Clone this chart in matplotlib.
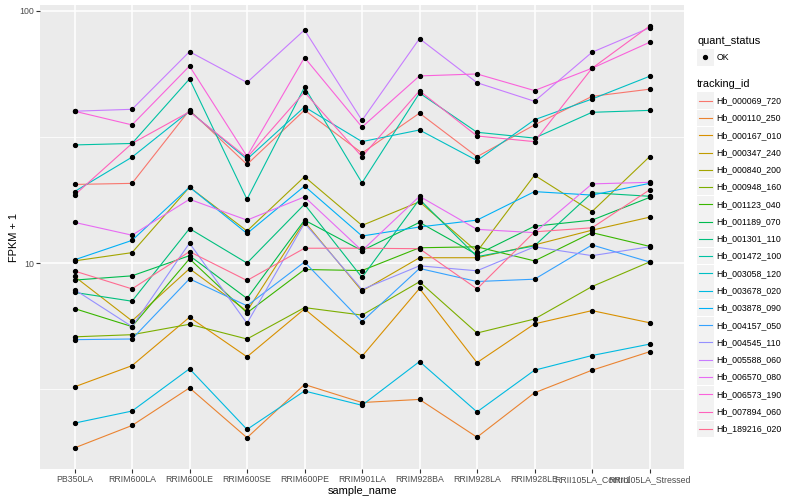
import matplotlib
matplotlib.use('Agg')
import matplotlib.pyplot as plt
import numpy as np
from matplotlib.ticker import FixedLocator, FixedFormatter, NullFormatter
from matplotlib.patches import Rectangle
from matplotlib.lines import Line2D

plt.rcParams['font.family'] = ['Liberation Sans', 'DejaVu Sans']

samples = ['PB350LA', 'RRIM600LA', 'RRIM600LE', 'RRIM600SE', 'RRIM600PE', 'RRIM901LA',
           'RRIM928BA', 'RRIM928LA', 'RRIM928LE', 'RRII105LA_Control', 'RRII105LA_Stressed']

tracking_ids = ['Hb_000069_720', 'Hb_000110_250', 'Hb_000167_010', 'Hb_000347_240',
                'Hb_000840_200', 'Hb_000948_160', 'Hb_001123_040', 'Hb_001189_070',
                'Hb_001301_110', 'Hb_001472_100', 'Hb_003058_120', 'Hb_003678_020',
                'Hb_003878_090', 'Hb_004157_050', 'Hb_004545_110', 'Hb_005588_060',
                'Hb_006570_080', 'Hb_006573_190', 'Hb_007894_060', 'Hb_189216_020']

# FPKM + 1 values per gene, in sample order
hb_000069_720 = [20.5, 20.7, 40.4, 24.6, 40.4, 27.3, 39.3, 26.4, 35.3, 45.8, 48.9]
hb_000110_250 = [1.85, 2.27, 3.20, 2.03, 3.30, 2.80, 2.88, 2.04, 3.06, 3.76, 4.45]
hb_000167_010 = [3.23, 3.92, 6.10, 4.25, 6.58, 4.27, 7.93, 4.03, 5.74, 6.48, 5.80]
hb_000347_240 = [8.85, 5.90, 9.50, 6.45, 14.6, 7.75, 10.5, 10.5, 11.8, 13.5, 15.2]
hb_000840_200 = [10.2, 11.0, 20.0, 13.4, 22.0, 14.1, 17.5, 11.1, 22.3, 16.0, 26.4]
hb_000948_160 = [5.10, 5.20, 5.72, 5.00, 6.66, 6.22, 8.43, 5.28, 6.00, 8.07, 10.1]
hb_001123_040 = [6.60, 5.60, 10.4, 6.35, 9.43, 9.34, 11.5, 11.6, 10.2, 13.2, 11.65]
hb_001189_070 = [8.56, 8.90, 10.7, 7.24, 14.8, 11.2, 14.5, 10.8, 14.0, 14.8, 18.2]
hb_001301_110 = [7.65, 7.06, 13.7, 10.0, 17.1, 8.77, 17.9, 10.6, 11.7, 19.0, 18.4]
hb_001472_100 = [29.4, 29.8, 53.7, 17.9, 49.8, 20.8, 47.2, 33.0, 31.3, 39.6, 40.3]
hb_003058_120 = [19.2, 26.3, 40.0, 25.8, 41.6, 30.3, 33.7, 25.5, 37.0, 44.7, 55.0]
hb_003678_020 = [2.32, 2.59, 3.81, 2.19, 3.11, 2.73, 4.07, 2.57, 3.76, 4.30, 4.77]
hb_003878_090 = [10.3, 12.3, 20.0, 13.1, 20.2, 12.8, 13.9, 14.8, 19.2, 18.6, 20.7]
hb_004157_050 = [4.97, 5.00, 8.66, 6.77, 10.1, 5.86, 9.52, 8.45, 8.63, 11.8, 10.1]
hb_004545_110 = [7.85, 5.60, 12.0, 5.77, 14.4, 7.85, 9.75, 9.32, 11.6, 10.7, 11.6]
hb_005588_060 = [40.0, 40.7, 68.9, 52.0, 84.0, 36.8, 77.6, 51.9, 43.8, 68.5, 85.6]
hb_006570_080 = [14.5, 12.9, 17.9, 14.8, 18.3, 11.2, 18.4, 13.6, 13.2, 20.6, 20.9]
hb_006573_190 = [40.0, 35.3, 60.4, 26.5, 65.3, 34.6, 55.2, 56.2, 48.3, 59.2, 75.0]
hb_007894_060 = [18.6, 29.8, 39.8, 26.2, 47.6, 26.4, 48.2, 31.9, 30.3, 59.2, 87.0]
hb_189216_020 = [9.30, 7.90, 11.1, 8.53, 11.45, 11.45, 11.4, 7.90, 13.3, 13.8, 19.5]

series = [hb_000069_720, hb_000110_250, hb_000167_010, hb_000347_240, hb_000840_200,
          hb_000948_160, hb_001123_040, hb_001189_070, hb_001301_110, hb_001472_100,
          hb_003058_120, hb_003678_020, hb_003878_090, hb_004157_050, hb_004545_110,
          hb_005588_060, hb_006570_080, hb_006573_190, hb_007894_060, hb_189216_020]

colors = ['#F8766D', '#EA8331', '#D89000', '#C09B00', '#A3A500', '#7CAE00', '#39B600',
          '#00BB4E', '#00BF7D', '#00C1A3', '#00BFC4', '#00BAE0', '#00B0F6', '#35A2FF',
          '#9590FF', '#C77CFF', '#E76BF3', '#FA62DB', '#FF62BC', '#FF6C91']

W, H = 800, 500
fig = plt.figure(figsize=(8, 5), dpi=100)
fig.patch.set_facecolor('white')
ax = fig.add_axes([40 / W, 1 - 469 / H, (684 - 40) / W, (469 - 5) / H])
ax.set_facecolor('#EBEBEB')

x = np.arange(1, len(samples) + 1)
for vals, col in zip(series, colors):
    ax.plot(x, vals, color=col, lw=0.8, zorder=3, solid_capstyle='butt')
for vals in series:
    ax.plot(x, vals, linestyle='none', marker='o', ms=2.8, color='black', zorder=4)

ax.set_yscale('log')
allv = np.concatenate([np.array(s) for s in series])
lo, hi = np.log10(allv.min()), np.log10(allv.max())
pad = 0.05 * (hi - lo)
ax.set_ylim(10 ** (lo - pad), 10 ** (hi + pad))
ax.set_xlim(0.4, len(samples) + 0.6)

ax.yaxis.set_major_locator(FixedLocator([10, 100]))
ax.yaxis.set_major_formatter(FixedFormatter(['10', '100']))
ax.yaxis.set_minor_locator(FixedLocator([10 ** 0.5, 10 ** 1.5]))
ax.yaxis.set_minor_formatter(NullFormatter())
ax.set_xticks(x)
ax.set_xticklabels(samples)

ax.grid(True, which='major', color='white', lw=1.1, zorder=1)
ax.grid(True, which='minor', axis='y', color='white', lw=0.55, zorder=1)
ax.set_axisbelow(True)
for s in ax.spines.values():
    s.set_visible(False)
ax.tick_params(axis='both', which='major', length=2.7, width=0.8, color='#333333',
               labelsize=6.3, labelcolor='#4D4D4D', pad=1.5)
ax.tick_params(axis='y', which='minor', length=0)

ax.set_xlabel('sample_name', fontsize=7.9, labelpad=1.5)
ax.set_ylabel('FPKM + 1', fontsize=7.9)
ax.yaxis.set_label_coords((19 - 40) / 644, 0.5)

# legend (drawn manually, ggplot style)
def fy(y):
    return 1 - y / H

def fx(xp):
    return xp / W

fig.text(fx(697), fy(40.5), 'quant_status', fontsize=7.9, va='center', ha='left')
fig.add_artist(Rectangle((fx(697), fy(65.5)), 16.5 / W, 16.5 / H, transform=fig.transFigure,
                         facecolor='#F2F2F2', edgecolor='none'))
fig.add_artist(Line2D([fx(705.2)], [fy(57.3)], marker='o', ms=2.8, color='black',
                      linestyle='none', transform=fig.transFigure))
fig.text(fx(716.5), fy(57.3), 'OK', fontsize=6.3, va='center', ha='left')

fig.text(fx(697), fy(84.3), 'tracking_id', fontsize=7.9, va='center', ha='left')
for i, (name, col) in enumerate(zip(tracking_ids, colors)):
    yc = 100.7 + 17.27 * i
    fig.add_artist(Rectangle((fx(697), fy(yc + 8.3)), 16.5 / W, 16.6 / H,
                             transform=fig.transFigure, facecolor='#F2F2F2', edgecolor='none'))
    fig.add_artist(Line2D([fx(698.5), fx(711.5)], [fy(yc), fy(yc)], color=col, lw=0.8,
                          transform=fig.transFigure))
    fig.text(fx(716.5), fy(yc), name, fontsize=6.3, va='center', ha='left')

fig.savefig('out.png', dpi=100)
